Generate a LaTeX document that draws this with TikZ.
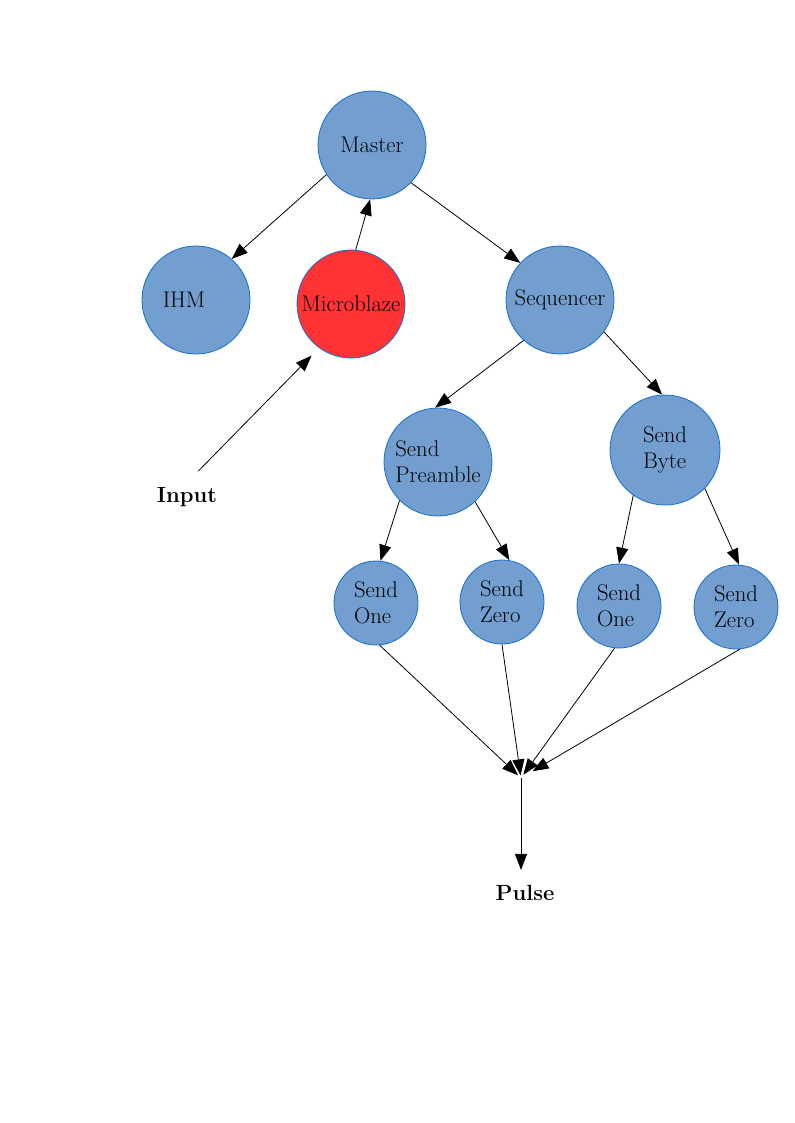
\documentclass[tikz,border=0pt]{standalone}
\usetikzlibrary{arrows.meta}

\begin{document}
\begin{tikzpicture}[x=0.75pt,y=-0.75pt,
    state/.style={circle,draw={rgb,255:red,20;green,110;blue,210},fill={rgb,255:red,114;green,159;blue,207},line width=0.6pt,inner sep=0pt,minimum size=81pt,font=\fontsize{17}{19.5}\selectfont,align=left},
    smallstate/.style={state,minimum size=63pt},
    flow/.style={-{Triangle[length=12pt,width=9pt]},line width=0.6pt},
    io/.style={font=\fontsize{16.5}{19.5}\selectfont\bfseries}]
    \useasboundingbox (0,0) rectangle (794,1123);
    % top level
    \node[state] (master) at (372,145) {Master};
    \node[state] (ihm) at (196,300) {IHM\hspace{18pt}};
    \node[state,fill={rgb,255:red,255;green,51;blue,51}] (micro) at (351,304) {Microblaze};
    \node[state] (seq) at (560,300) {Sequencer};
    \node[io] (input) at (187,497) {Input};
    % sequencer children
    \node[state] (preamble) at (438,462) {Send\\Preamble};
    \node[state,minimum size=82.5pt] (byte) at (665,450) {Send\\Byte};
    \node[smallstate] (onea) at (376,603) {Send\\One};
    \node[smallstate] (zeroa) at (502,602) {Send\\Zero};
    \node[smallstate] (oneb) at (619,606) {Send\\One};
    \node[smallstate] (zerob) at (736,607) {Send\\Zero};
    \coordinate (jn) at (521,778);
    \node[io] (pulse) at (525,893) {Pulse};
    \draw[flow] (master.213) -- (ihm.49);
    \draw[flow] (micro.85) -- (master.268);
    \draw[flow] (master.-44) -- (seq.137);
    \draw[flow,shorten <=12pt,shorten >=8pt] (input.north) -- (micro.234);
    \draw[flow] (seq.228) -- (preamble.93);
    \draw[flow] (seq.-36) -- (byte.93);
    \draw[flow] (preamble.225) -- (onea.84);
    \draw[flow] (preamble.-47) -- (zeroa.80);
    \draw[flow] (byte.235) -- (oneb.90);
    \draw[flow] (byte.-44) -- (zerob.86);
    \draw[flow,shorten >=3pt] (onea.-85) -- (jn);
    \draw[flow,shorten >=2pt] (zeroa.south) -- (jn);
    \draw[flow,shorten >=3pt] (oneb.-96) -- (jn);
    \draw[flow,shorten >=10pt] (zerob.-85) -- (jn);
    \draw[flow,shorten >=8pt] (jn) -- (jn |- pulse.north);
\end{tikzpicture}
\end{document}
